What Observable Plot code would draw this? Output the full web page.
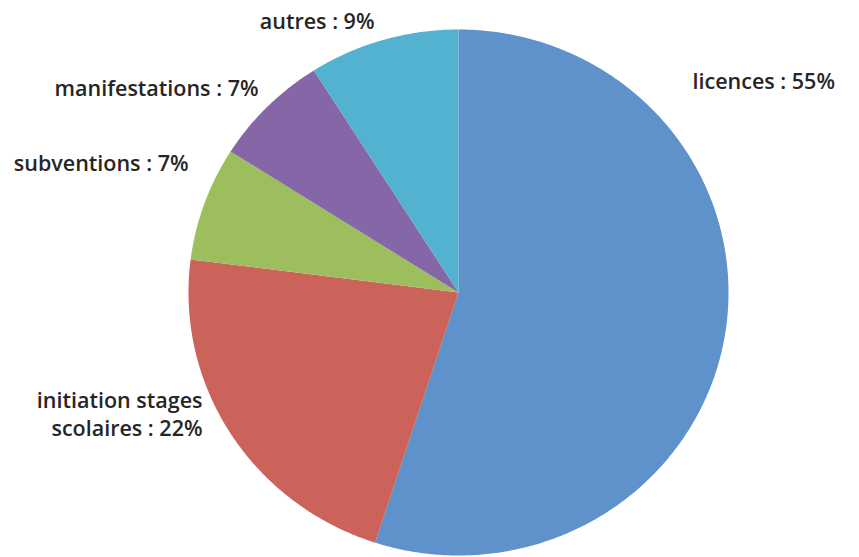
<!DOCTYPE html>
<html>
<head>
<meta charset="utf-8">
<script src="https://cdn.jsdelivr.net/npm/d3@7"></script>
<script src="https://cdn.jsdelivr.net/npm/@observablehq/plot@0.6"></script>
<style>
  html, body { margin: 0; padding: 0; background: #ffffff; }
  #chart { width: 859px; height: 557px; }
</style>
</head>
<body>
<div id="chart"></div>
<script>
// ---- data ----
const categories = ["licences", "initiation stages scolaires", "subventions", "manifestations", "autres"];
const values = [55, 22, 7, 7, 9];
const labels = ["licences : 55%", "initiation stages\nscolaires : 22%", "subventions : 7%", "manifestations : 7%", "autres : 9%"];
const colors = ["#5f91ca", "#cb635a", "#9dbe5d", "#8567a7", "#52b2cf"];

// ---- layout (pixels) ----
const W = 859, H = 557;
const pie = { cx: 458, cy: 292, rx: 270, ry: 263 };
const labelLayout = [
  { x: 692, y: 80, anchor: "start" },
  { x: 202, y: 413, anchor: "end" },
  { x: 188, y: 162, anchor: "end" },
  { x: 258, y: 87, anchor: "end" },
  { x: 374, y: 20, anchor: "end" }
];

// angles via d3.pie, starting at 12 o'clock, clockwise, data order
const arcs = d3.pie().sort(null).value(d => d)(values);
const polys = [];
arcs.forEach((a, i) => {
  polys.push({ key: categories[i], color: colors[i], x: pie.cx, y: pie.cy });
  const steps = Math.max(2, Math.ceil((a.endAngle - a.startAngle) / (Math.PI / 360)));
  for (let s = 0; s <= steps; s++) {
    const t = a.startAngle + (a.endAngle - a.startAngle) * s / steps;
    polys.push({ key: categories[i], color: colors[i], x: pie.cx + pie.rx * Math.sin(t), y: pie.cy - pie.ry * Math.cos(t) });
  }
});

const labelRows = labels.map((t, i) => ({ text: t, ...labelLayout[i] }));

const textStyle = {
  x: "x", y: "y", text: "text",
  fill: "#262626",
  fontSize: 21.5,
  fontWeight: 600,
  fontFamily: "'Open Sans', sans-serif",
  lineHeight: 1.3
};

const chart = Plot.plot({
  width: W,
  height: H,
  margin: 0,
  x: { domain: [0, W], range: [0, W], axis: null },
  y: { domain: [0, H], range: [0, H], axis: null },
  color: { type: "identity" },
  style: { background: "#ffffff", fontFamily: "'Open Sans', sans-serif" },
  marks: [
    Plot.line(polys, { x: "x", y: "y", z: "key", fill: "color", stroke: null, curve: "linear" }),
    Plot.text(labelRows.filter(d => d.anchor === "start"), { ...textStyle, textAnchor: "start" }),
    Plot.text(labelRows.filter(d => d.anchor === "end"), { ...textStyle, textAnchor: "end" })
  ]
});
document.getElementById("chart").appendChild(chart);
</script>
</body>
</html>
